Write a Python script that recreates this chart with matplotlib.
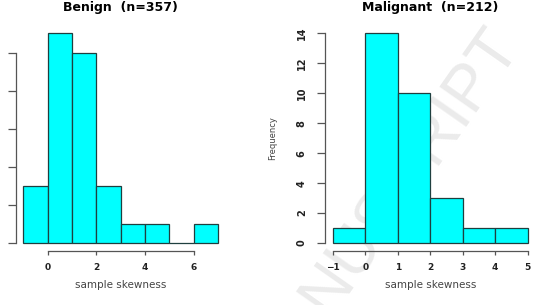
import numpy as np
import matplotlib.pyplot as plt

# histogram data (bin edges + counts)
benign_edges = [-1, 0, 1, 2, 3, 4, 5, 6, 7]
benign_counts = [3, 11, 10, 3, 1, 1, 0, 1]
benign_xticks = [0, 2, 4, 6]
benign_yticks = [0, 2, 4, 6, 8, 10]

malig_edges = [-1, 0, 1, 2, 3, 4, 5]
malig_counts = [1, 14, 10, 3, 1, 1]
malig_xticks = [-1, 0, 1, 2, 3, 4, 5]
malig_yticks = [0, 2, 4, 6, 8, 10, 12, 14]

titles = ["Benign  (n=357)", "Malignant  (n=212)"]

W, H = 534, 305
fig = plt.figure(figsize=(W / 100, H / 100), dpi=100)


def px_rect(x0, x1, ytop, ybot):
    return [x0 / W, 1 - ybot / H, (x1 - x0) / W, (ybot - ytop) / H]


# watermark, drawn under the plots
fig.text(522 / W, 1 - 48 / H, "ACCEPTED MANUSCRIPT", fontsize=47,
         family="Liberation Sans", color="#ebebeb", rotation=55,
         rotation_mode="anchor", ha="right", va="baseline", zorder=0)


def r_hist(rect, edges, counts, xticks, yticks, title, ylabels=True):
    ax = fig.add_axes(rect, zorder=2)
    ax.set_facecolor("none")
    edges = np.array(edges, dtype=float)
    counts = np.array(counts, dtype=float)
    ax.bar(edges[:-1], counts, width=np.diff(edges), align="edge",
           color="#00ffff", edgecolor="#1f3f3f", linewidth=0.9)
    # R style 4% padding
    xr = edges[-1] - edges[0]
    ax.set_xlim(edges[0] - 0.04 * xr, edges[-1] + 0.04 * xr)
    ax.set_ylim(-0.04 * counts.max(), counts.max() * 1.04)
    for s in ["top", "right"]:
        ax.spines[s].set_visible(False)
    for s in ["left", "bottom"]:
        ax.spines[s].set_color("#555555")
        ax.spines[s].set_linewidth(0.9)
    ax.spines["bottom"].set_bounds(xticks[0], xticks[-1])
    ax.spines["left"].set_bounds(yticks[0], yticks[-1])
    ax.set_xticks(xticks)
    ax.set_xticklabels([str(t).replace("-", "\u2212") for t in xticks],
                       fontweight="bold", fontsize=6.5, color="#222222")
    ax.set_yticks(yticks)
    ax.tick_params(axis="x", length=3, width=0.9, color="#555555", pad=5)
    ax.tick_params(axis="y", length=6, width=0.9, color="#555555", pad=7)
    if ylabels:
        ax.set_yticklabels([str(t) for t in yticks], fontweight="bold",
                           fontsize=7, color="#222222", rotation=90,
                           va="center")
        ax.set_ylabel("Frequency", fontsize=6, color="#444444", labelpad=14)
    else:
        # left panel's labels fall outside the cropped picture
        ax.set_yticklabels([])
    ax.set_xlabel("sample skewness", fontsize=7.5, color="#444444", labelpad=6)
    ax.set_title(title, fontsize=9, fontweight="bold", pad=10)
    return ax


r_hist(px_rect(15.6, 225.7, 25.1, 251.4), benign_edges, benign_counts,
       benign_xticks, benign_yticks, titles[0], ylabels=False)
r_hist(px_rect(324.9, 535.5, 25.1, 251.4), malig_edges, malig_counts,
       malig_xticks, malig_yticks, titles[1])

fig.savefig("out.png", dpi=100)
